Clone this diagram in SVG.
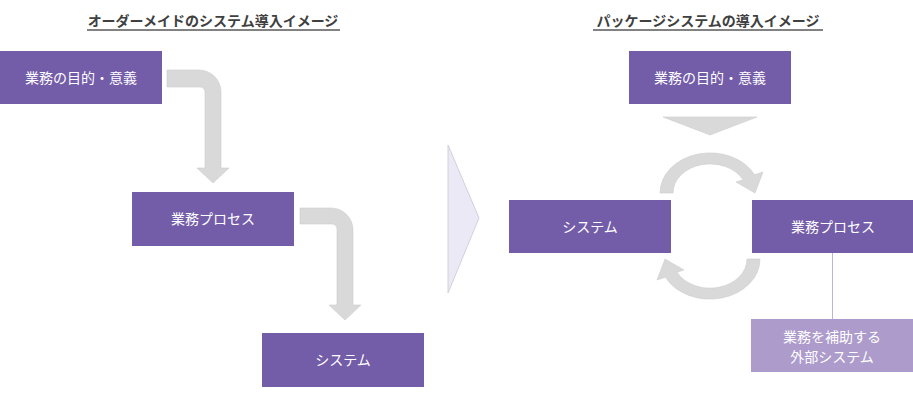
<svg xmlns="http://www.w3.org/2000/svg" width="913" height="415" viewBox="0 0 913 415">
<style>
.t{font-family:"Noto Sans CJK JP","Noto Sans",sans-serif;font-size:14px;fill:#ffffff;text-anchor:middle}
.title{font-family:"Noto Sans CJK JP","Noto Sans",sans-serif;font-size:14px;font-weight:bold;fill:#404040;text-anchor:middle}
.box{fill:#735CA8}
.box2{fill:#AC9BCB}
.arr{fill:#D9D9D9;stroke:#CDCDCD;stroke-width:0.6}
</style>
<rect width="913" height="415" fill="#ffffff"/>
<g id="titles">
<text class="title" x="213" y="26">オーダーメイドのシステム導入イメージ</text>
<line x1="87" y1="30" x2="340" y2="30" stroke="#595959" stroke-width="1.3"/>
<text class="title" x="708" y="26">パッケージシステムの導入イメージ</text>
<line x1="593" y1="30" x2="823" y2="30" stroke="#595959" stroke-width="1.3"/>
</g>
<g id="connectors">
<path class="arr" d="M167,70 L199,70 A22,22 0 0 1 221,92 L221,168 L229,168 L213,183 L197,168 L205,168 L205,92 A5,5 0 0 0 200,87 L167,87 Z"/>
<path class="arr" d="M300,208 L331,208 A22,22 0 0 1 353,230 L353,305 L361,305 L345,320 L329,305 L337,305 L337,229 A5,5 0 0 0 332,224 L300,224 Z"/>
<path id="chevron" d="M448,145 L479,218 L448,293 Z" fill="#EBE9F5" stroke="#D3D0DC" stroke-width="1"/>
<path class="arr" d="M663,117 L757,117 L710,135 Z"/>
<path class="arr" d="M660,193 A50,40 0 0 1 754.6,174.8 L763,172 L755,193 L736,182 L743,179.8 A37,29 0 0 0 673,193 Z"/>
<path class="arr" transform="rotate(180 710 226)" d="M660,193 A50,40 0 0 1 754.6,174.8 L763,172 L755,193 L736,182 L743,179.8 A37,29 0 0 0 673,193 Z"/>
<line x1="832.5" y1="253" x2="832.5" y2="319" stroke="#BDB2D9" stroke-width="1"/>
</g>
<g id="om-purpose">
<rect class="box" x="0" y="51" width="162" height="53"/>
<text class="t" x="81" y="83">業務の目的・意義</text>
</g>
<g id="om-process">
<rect class="box" x="132" y="192" width="162" height="54"/>
<text class="t" x="213" y="224">業務プロセス</text>
</g>
<g id="om-system">
<rect class="box" x="262" y="333" width="162" height="54"/>
<text class="t" x="343" y="365">システム</text>
</g>
<g id="pk-purpose">
<rect class="box" x="629" y="51" width="162" height="53"/>
<text class="t" x="710" y="83">業務の目的・意義</text>
</g>
<g id="pk-system">
<rect class="box" x="509" y="200" width="162" height="53"/>
<text class="t" x="590" y="232">システム</text>
</g>
<g id="pk-process">
<rect class="box" x="752" y="200" width="162" height="53"/>
<text class="t" x="833" y="232">業務プロセス</text>
</g>
<g id="pk-external">
<rect class="box2" x="751" y="319" width="163" height="53"/>
<text class="t" x="832" y="342">業務を補助する</text>
<text class="t" x="832" y="362">外部システム</text>
</g>
</svg>
